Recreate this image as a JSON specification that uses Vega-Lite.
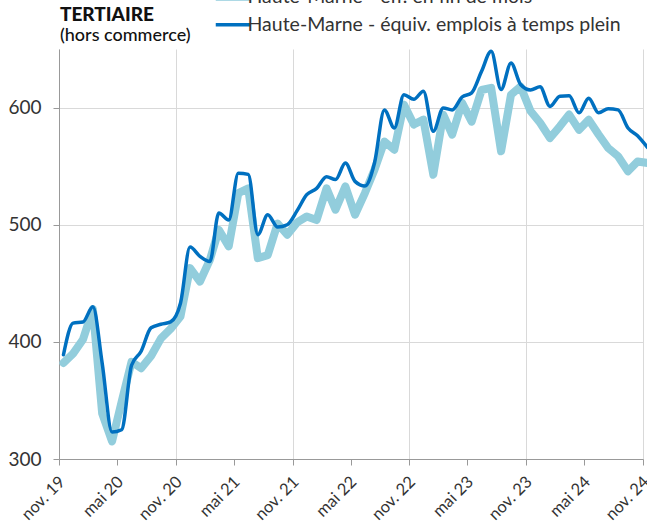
{
  "$schema": "https://vega.github.io/schema/vega-lite/v6.json",
  "width": 584,
  "height": 410,
  "autosize": "none",
  "padding": {"left": 59, "top": 49, "right": 4, "bottom": 64},
  "background": "white",
  "config": {
    "font": "Lato",
    "view": {"stroke": null}
  },
  "title": {
    "text": "TERTIAIRE",
    "subtitle": "(hors commerce)",
    "anchor": "start",
    "font": "Lato",
    "fontSize": 19,
    "fontWeight": 900,
    "color": "#111111",
    "subtitleFont": "Lato",
    "subtitleFontSize": 18,
    "subtitleFontWeight": 500,
    "subtitleColor": "#111111",
    "subtitlePadding": 2,
    "offset": -58,
    "dx": 52
  },
  "data": {
    "values": [
      {"date": "2019-11-15", "eff": 382, "etp": 389},
      {"date": "2019-12-15", "eff": 390, "etp": 416},
      {"date": "2020-01-15", "eff": 402, "etp": 417},
      {"date": "2020-02-15", "eff": 428, "etp": 430},
      {"date": "2020-03-15", "eff": 339, "etp": 382},
      {"date": "2020-04-15", "eff": 315, "etp": 323},
      {"date": "2020-05-15", "eff": 349, "etp": 325},
      {"date": "2020-06-15", "eff": 383, "etp": 380},
      {"date": "2020-07-15", "eff": 377.5, "etp": 392},
      {"date": "2020-08-15", "eff": 388, "etp": 412},
      {"date": "2020-09-15", "eff": 403, "etp": 415},
      {"date": "2020-10-15", "eff": 411, "etp": 417},
      {"date": "2020-11-15", "eff": 421.6, "etp": 433},
      {"date": "2020-12-15", "eff": 463, "etp": 481},
      {"date": "2021-01-15", "eff": 451.5, "etp": 473},
      {"date": "2021-02-15", "eff": 470, "etp": 468.6},
      {"date": "2021-03-15", "eff": 495.7, "etp": 510},
      {"date": "2021-04-15", "eff": 481.5, "etp": 504},
      {"date": "2021-05-15", "eff": 527, "etp": 544},
      {"date": "2021-06-15", "eff": 531, "etp": 543},
      {"date": "2021-07-15", "eff": 471.5, "etp": 491.5},
      {"date": "2021-08-15", "eff": 474, "etp": 508.5},
      {"date": "2021-09-15", "eff": 501, "etp": 498},
      {"date": "2021-10-15", "eff": 491.5, "etp": 500},
      {"date": "2021-11-15", "eff": 502, "etp": 512},
      {"date": "2021-12-15", "eff": 507, "etp": 525.6},
      {"date": "2022-01-15", "eff": 504, "etp": 531},
      {"date": "2022-02-15", "eff": 531, "etp": 541},
      {"date": "2022-03-15", "eff": 512.8, "etp": 538.5},
      {"date": "2022-04-15", "eff": 532.7, "etp": 552.7},
      {"date": "2022-05-15", "eff": 508.5, "etp": 537},
      {"date": "2022-06-15", "eff": 527, "etp": 533},
      {"date": "2022-07-15", "eff": 547, "etp": 552.7},
      {"date": "2022-08-15", "eff": 571, "etp": 598},
      {"date": "2022-09-15", "eff": 564, "etp": 582.6},
      {"date": "2022-10-15", "eff": 602.5, "etp": 611},
      {"date": "2022-11-15", "eff": 585.5, "etp": 607},
      {"date": "2022-12-15", "eff": 589.7, "etp": 614},
      {"date": "2023-01-15", "eff": 542.7, "etp": 579.7},
      {"date": "2023-02-15", "eff": 594, "etp": 599.7},
      {"date": "2023-03-15", "eff": 577, "etp": 598},
      {"date": "2023-04-15", "eff": 604, "etp": 609},
      {"date": "2023-05-15", "eff": 588, "etp": 612.6},
      {"date": "2023-06-15", "eff": 615, "etp": 631},
      {"date": "2023-07-15", "eff": 616.8, "etp": 648},
      {"date": "2023-08-15", "eff": 562.7, "etp": 615.4},
      {"date": "2023-09-15", "eff": 611, "etp": 638},
      {"date": "2023-10-15", "eff": 618, "etp": 619.7},
      {"date": "2023-11-15", "eff": 597, "etp": 615},
      {"date": "2023-12-15", "eff": 587, "etp": 617.7},
      {"date": "2024-01-15", "eff": 574, "etp": 601},
      {"date": "2024-02-15", "eff": 584, "etp": 609.7},
      {"date": "2024-03-15", "eff": 594, "etp": 610},
      {"date": "2024-04-15", "eff": 581, "etp": 595.5},
      {"date": "2024-05-15", "eff": 589.7, "etp": 608},
      {"date": "2024-06-15", "eff": 577, "etp": 595.5},
      {"date": "2024-07-15", "eff": 565.5, "etp": 599},
      {"date": "2024-08-15", "eff": 558.4, "etp": 598},
      {"date": "2024-09-15", "eff": 545.6, "etp": 582.6},
      {"date": "2024-10-15", "eff": 554, "etp": 576},
      {"date": "2024-11-15", "eff": 552.7, "etp": 566}
    ]
  },
  "encoding": {
    "x": {
      "field": "date",
      "type": "temporal",
      "scale": {
        "type": "utc",
        "domain": [
          {"year": 2019, "month": 11, "date": 1, "utc": true},
          {"year": 2024, "month": 11, "date": 1, "utc": true}
        ]
      },
      "axis": {
        "title": null,
        "values": [
          {"year": 2019, "month": 11, "date": 1, "utc": true},
          {"year": 2020, "month": 5, "date": 1, "utc": true},
          {"year": 2020, "month": 11, "date": 1, "utc": true},
          {"year": 2021, "month": 5, "date": 1, "utc": true},
          {"year": 2021, "month": 11, "date": 1, "utc": true},
          {"year": 2022, "month": 5, "date": 1, "utc": true},
          {"year": 2022, "month": 11, "date": 1, "utc": true},
          {"year": 2023, "month": 5, "date": 1, "utc": true},
          {"year": 2023, "month": 11, "date": 1, "utc": true},
          {"year": 2024, "month": 5, "date": 1, "utc": true},
          {"year": 2024, "month": 11, "date": 1, "utc": true}
        ],
        "labelExpr": "(utcmonth(datum.value) == 10 ? 'nov. ' : 'mai ') + utcFormat(datum.value, '%y')",
        "labelAngle": -45,
        "labelAlign": "right",
        "labelBaseline": "middle",
        "labelFontSize": 16.5,
        "labelColor": "#333333",
        "labelPadding": 14,
        "labelOffset": 3,
        "labelOverlap": false,
        "labelFlush": false,
        "tickSize": 6,
        "tickColor": "#999999",
        "domainColor": "#999999",
        "grid": true,
        "gridColor": "#d9d9d9",
        "gridOpacity": {"condition": {"test": "utcmonth(datum.value) == 10", "value": 1}, "value": 0}
      }
    }
  },
  "layer": [
    {
      "mark": {"type": "line", "interpolate": "linear", "strokeWidth": 8, "strokeCap": "round", "strokeJoin": "round"},
      "encoding": {
        "y": {
          "field": "eff",
          "type": "quantitative",
          "scale": {"domain": [300, 650], "nice": false, "zero": false},
          "axis": {
            "title": null,
            "values": [300, 400, 500, 600],
            "labelFontSize": 19,
            "labelColor": "#333333",
            "labelPadding": 12,
            "tickSize": 6,
            "tickColor": "#999999",
            "domainColor": "#999999",
            "grid": true,
            "gridColor": "#d9d9d9"
          }
        },
        "color": {
          "datum": "Haute-Marne - eff. en fin de mois",
          "type": "nominal",
          "scale": {
            "domain": ["Haute-Marne - eff. en fin de mois", "Haute-Marne - équiv. emplois à temps plein"],
            "range": ["#92CDDC", "#0070C0"]
          },
          "legend": {
            "title": null,
            "orient": "none",
            "legendX": 164,
            "legendY": -62,
            "padding": 0,
            "symbolType": "stroke",
            "symbolSize": 1156,
            "labelFontSize": 19.5,
            "labelColor": "#333333",
            "labelLimit": 600,
            "labelOffset": 5,
            "rowPadding": 1,
            "encode": {
              "symbols": {
                "update": {
                  "strokeWidth": {"signal": "datum.value == 'Haute-Marne - eff. en fin de mois' ? 8 : 3.5"}
                }
              }
            }
          }
        }
      }
    },
    {
      "mark": {"type": "line", "interpolate": "monotone", "strokeWidth": 3.5, "strokeCap": "round", "strokeJoin": "round"},
      "encoding": {
        "y": {"field": "etp", "type": "quantitative"},
        "color": {"datum": "Haute-Marne - équiv. emplois à temps plein", "type": "nominal"}
      }
    }
  ]
}
